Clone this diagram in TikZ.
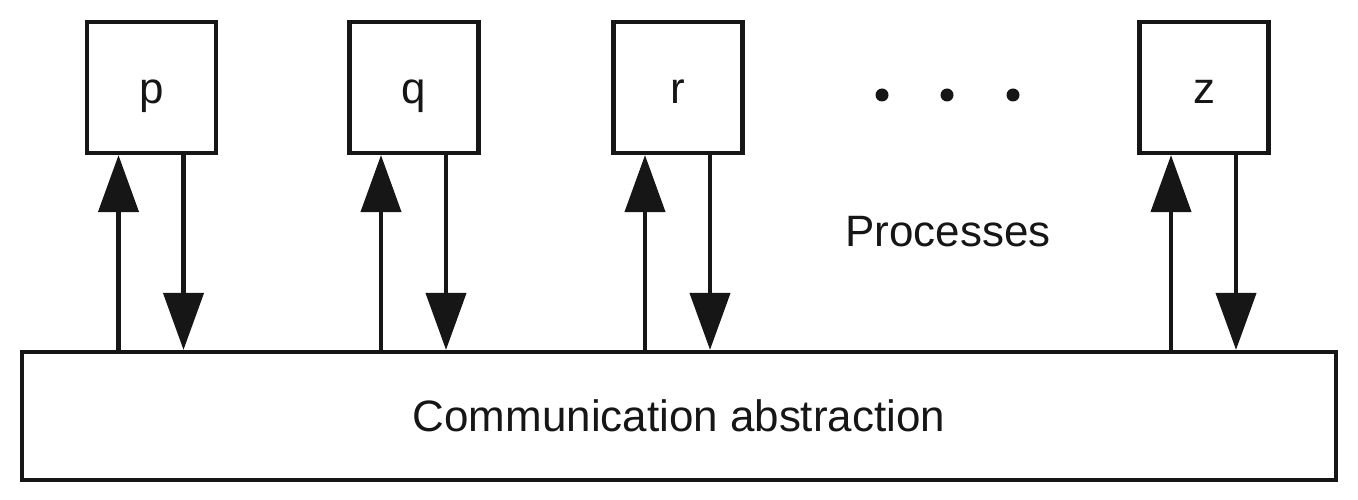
\documentclass[tikz,border=0pt]{standalone}
\usepackage{fontspec}
\setmainfont{Liberation Sans}
\usetikzlibrary{arrows.meta}
\definecolor{ink}{HTML}{161616}
\tikzset{
	proc/.style={draw=ink, line width=1.2pt, minimum width=1.29cm, minimum height=1.31cm, text height=0.32cm, text depth=0pt},
	msg/.style={draw=ink, line width=1.2pt, -{Triangle[length=5.7mm, width=4mm]}},
	dot/.style={circle, fill=ink, inner sep=0pt, minimum size=0.13cm}
}
\begin{document}
\begin{tikzpicture}[font=\fontsize{12.5}{15}\selectfont, text=ink]
		\useasboundingbox (0, 0) rectangle (13.58, -5.00);
		\node[proc] (p) at (1.515, -0.875) {p};
		\node[proc] (q) at (4.14, -0.875) {q};
		\node[proc] (r) at (6.78, -0.875) {r};
		\node[proc] (z) at (12.04, -0.875) {z};
		\node[dot] (d1) at (8.82, -0.95) {};
		\node[dot] (d2) at (9.47, -0.95) {};
		\node[dot] (d3) at (10.13, -0.95) {};
		\node (procs) at (9.48, -2.32) {Processes};
		\node[draw=ink, line width=1.2pt, minimum width=13.14cm, minimum height=1.28cm] (comm) at (6.79, -4.16) {Communication abstraction};

		\foreach \n in {p, q, r, z} {
			\draw[msg] ([xshift=-0.33cm]\n.south |- comm.north) -- ([xshift=-0.33cm]\n.south);
			\draw[msg] ([xshift=0.32cm]\n.south) -- ([xshift=0.32cm]\n.south |- comm.north);
		}
	\end{tikzpicture}
\end{document}
